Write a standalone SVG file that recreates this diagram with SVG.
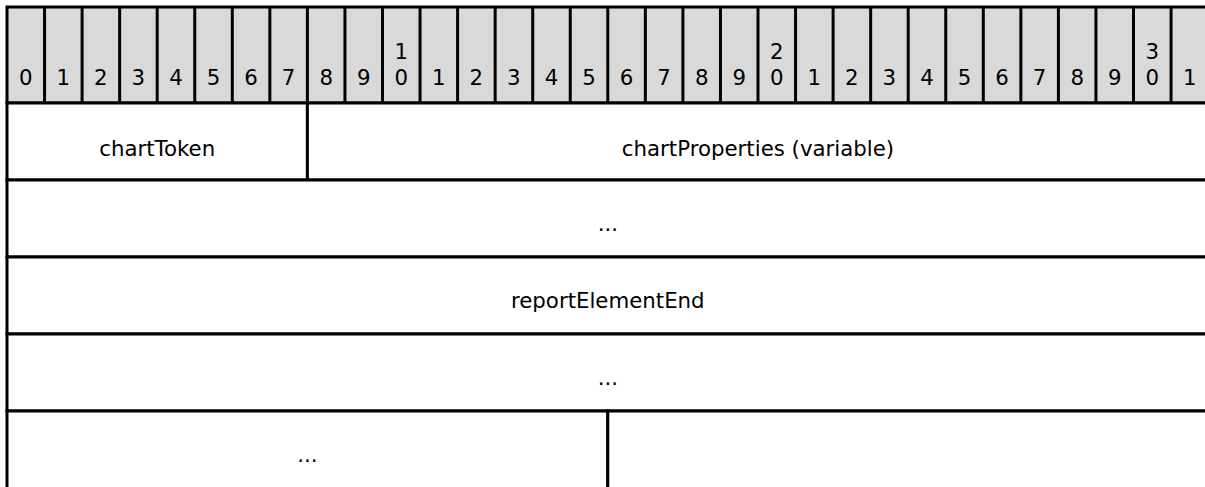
<svg xmlns="http://www.w3.org/2000/svg" width="1205" height="487" viewBox="0 0 1205 487">
<style>
.cell{fill:#ffffff;stroke:#000000;stroke-width:3}
.hdr{fill:#d9d9d9;stroke:#000000;stroke-width:3}
.tick{stroke:#000000;stroke-width:3}
text{font-family:"DejaVu Sans",Verdana,sans-serif;font-size:21.3px;fill:#000000;text-anchor:middle}
</style>
<rect x="0" y="0" width="1205" height="487" fill="#ffffff"/>
<g id="header">
<rect class="hdr" x="7" y="7" width="1201.6" height="96"/>
<g class="ticks">
<line class="tick" x1="44.55" y1="7" x2="44.55" y2="103"/>
<line class="tick" x1="82.1" y1="7" x2="82.1" y2="103"/>
<line class="tick" x1="119.65" y1="7" x2="119.65" y2="103"/>
<line class="tick" x1="157.2" y1="7" x2="157.2" y2="103"/>
<line class="tick" x1="194.75" y1="7" x2="194.75" y2="103"/>
<line class="tick" x1="232.3" y1="7" x2="232.3" y2="103"/>
<line class="tick" x1="269.85" y1="7" x2="269.85" y2="103"/>
<line class="tick" x1="307.4" y1="7" x2="307.4" y2="103"/>
<line class="tick" x1="344.95" y1="7" x2="344.95" y2="103"/>
<line class="tick" x1="382.5" y1="7" x2="382.5" y2="103"/>
<line class="tick" x1="420.05" y1="7" x2="420.05" y2="103"/>
<line class="tick" x1="457.6" y1="7" x2="457.6" y2="103"/>
<line class="tick" x1="495.15" y1="7" x2="495.15" y2="103"/>
<line class="tick" x1="532.7" y1="7" x2="532.7" y2="103"/>
<line class="tick" x1="570.25" y1="7" x2="570.25" y2="103"/>
<line class="tick" x1="607.8" y1="7" x2="607.8" y2="103"/>
<line class="tick" x1="645.35" y1="7" x2="645.35" y2="103"/>
<line class="tick" x1="682.9" y1="7" x2="682.9" y2="103"/>
<line class="tick" x1="720.45" y1="7" x2="720.45" y2="103"/>
<line class="tick" x1="758" y1="7" x2="758" y2="103"/>
<line class="tick" x1="795.55" y1="7" x2="795.55" y2="103"/>
<line class="tick" x1="833.1" y1="7" x2="833.1" y2="103"/>
<line class="tick" x1="870.65" y1="7" x2="870.65" y2="103"/>
<line class="tick" x1="908.2" y1="7" x2="908.2" y2="103"/>
<line class="tick" x1="945.75" y1="7" x2="945.75" y2="103"/>
<line class="tick" x1="983.3" y1="7" x2="983.3" y2="103"/>
<line class="tick" x1="1020.85" y1="7" x2="1020.85" y2="103"/>
<line class="tick" x1="1058.4" y1="7" x2="1058.4" y2="103"/>
<line class="tick" x1="1095.95" y1="7" x2="1095.95" y2="103"/>
<line class="tick" x1="1133.5" y1="7" x2="1133.5" y2="103"/>
<line class="tick" x1="1171.05" y1="7" x2="1171.05" y2="103"/>
</g>
<g class="bits">
<text x="25.8" y="85">0</text>
<text x="63.3" y="85">1</text>
<text x="100.9" y="85">2</text>
<text x="138.4" y="85">3</text>
<text x="176" y="85">4</text>
<text x="213.5" y="85">5</text>
<text x="251.1" y="85">6</text>
<text x="288.6" y="85">7</text>
<text x="326.2" y="85">8</text>
<text x="363.7" y="85">9</text>
<text x="401.3" y="58.5">1</text>
<text x="401.3" y="85">0</text>
<text x="438.8" y="85">1</text>
<text x="476.4" y="85">2</text>
<text x="513.9" y="85">3</text>
<text x="551.5" y="85">4</text>
<text x="589" y="85">5</text>
<text x="626.6" y="85">6</text>
<text x="664.1" y="85">7</text>
<text x="701.7" y="85">8</text>
<text x="739.2" y="85">9</text>
<text x="776.8" y="58.5">2</text>
<text x="776.8" y="85">0</text>
<text x="814.3" y="85">1</text>
<text x="851.9" y="85">2</text>
<text x="889.4" y="85">3</text>
<text x="927" y="85">4</text>
<text x="964.5" y="85">5</text>
<text x="1002.1" y="85">6</text>
<text x="1039.6" y="85">7</text>
<text x="1077.2" y="85">8</text>
<text x="1114.7" y="85">9</text>
<text x="1152.3" y="58.5">3</text>
<text x="1152.3" y="85">0</text>
<text x="1189.8" y="85">1</text>
</g>
</g>
<g id="chartToken">
<rect class="cell" x="7" y="103" width="300.4" height="77"/>
<text x="157.2" y="155.5">chartToken</text>
</g>
<g id="chartProperties">
<rect class="cell" x="307.4" y="103" width="901.2" height="77"/>
<text x="758" y="155.5">chartProperties (variable)</text>
</g>
<g id="chartPropertiesCont">
<rect class="cell" x="7" y="180" width="1201.6" height="77"/>
<text x="607.8" y="231">...</text>
</g>
<g id="reportElementEnd">
<rect class="cell" x="7" y="257" width="1201.6" height="77"/>
<text x="607.8" y="307.5">reportElementEnd</text>
</g>
<g id="moreData">
<rect class="cell" x="7" y="334" width="1201.6" height="77"/>
<text x="607.8" y="384.5">...</text>
</g>
<g id="moreDataTail">
<rect class="cell" x="7" y="411" width="600.8" height="80"/>
<text x="307.4" y="461.5">...</text>
</g>
<g id="moreDataRight">
<rect class="cell" x="607.8" y="411" width="600.8" height="80"/>
</g>
</svg>
